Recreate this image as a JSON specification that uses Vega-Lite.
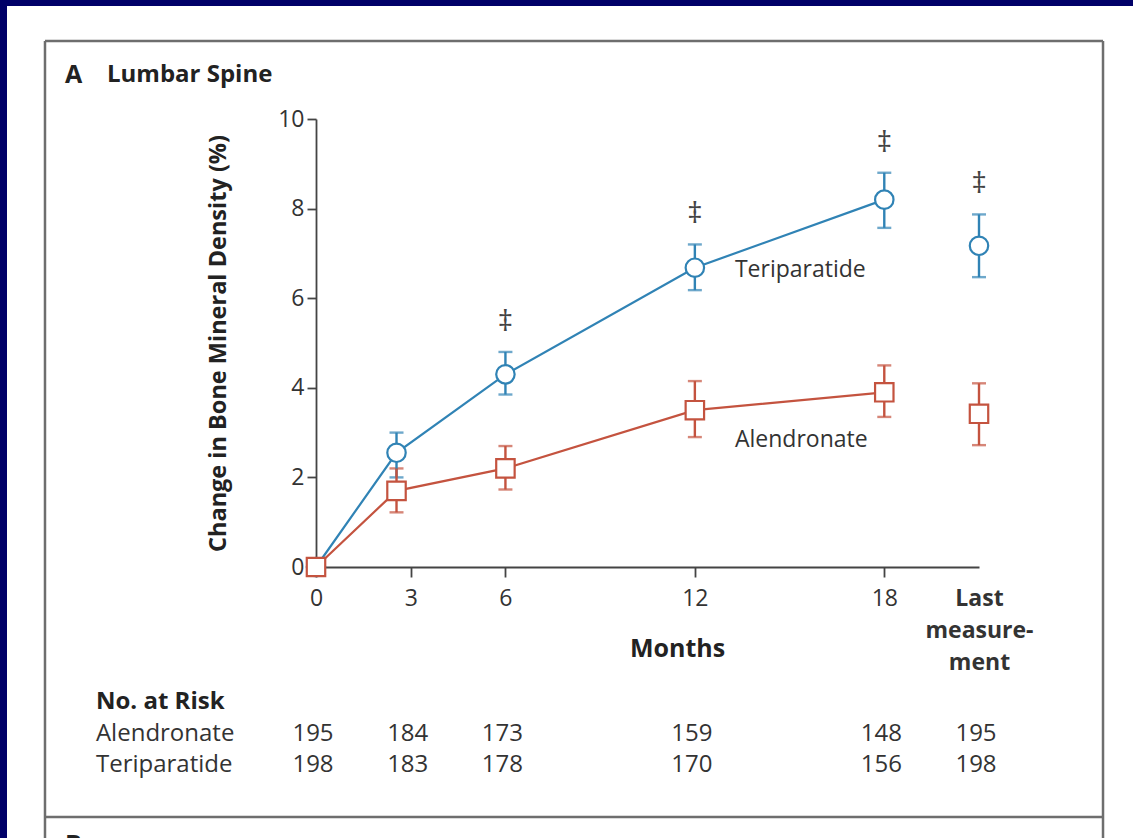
{
  "$schema": "https://vega.github.io/schema/vega-lite/v6.json",
  "width": 663,
  "height": 448,
  "autosize": {"type": "none"},
  "padding": {"left": 316, "top": 119, "right": 154, "bottom": 271},
  "background": "white",
  "config": {"view": {"stroke": null}, "font": "Open Sans"},
  "datasets": {
    "bmd": [
      {"group": "Teriparatide", "month": 0, "value": 0, "lo": 0, "hi": 0, "sig": ""},
      {"group": "Teriparatide", "month": 2.55, "value": 2.55, "lo": 2.0, "hi": 3.0, "sig": ""},
      {"group": "Teriparatide", "month": 6, "value": 4.3, "lo": 3.85, "hi": 4.8, "sig": "‡"},
      {"group": "Teriparatide", "month": 12, "value": 6.68, "lo": 6.18, "hi": 7.2, "sig": "‡"},
      {"group": "Teriparatide", "month": 18, "value": 8.2, "lo": 7.57, "hi": 8.8, "sig": "‡"},
      {"group": "Teriparatide", "month": 21, "value": 7.17, "lo": 6.47, "hi": 7.87, "sig": "‡"},
      {"group": "Alendronate", "month": 0, "value": 0, "lo": 0, "hi": 0, "sig": ""},
      {"group": "Alendronate", "month": 2.55, "value": 1.7, "lo": 1.22, "hi": 2.2, "sig": ""},
      {"group": "Alendronate", "month": 6, "value": 2.2, "lo": 1.73, "hi": 2.7, "sig": ""},
      {"group": "Alendronate", "month": 12, "value": 3.5, "lo": 2.9, "hi": 4.15, "sig": ""},
      {"group": "Alendronate", "month": 18, "value": 3.9, "lo": 3.35, "hi": 4.5, "sig": ""},
      {"group": "Alendronate", "month": 21, "value": 3.42, "lo": 2.72, "hi": 4.1, "sig": ""}
    ],
    "risk": [
      {"group": "Alendronate", "month": 0, "n": 195},
      {"group": "Alendronate", "month": 3, "n": 184},
      {"group": "Alendronate", "month": 6, "n": 173},
      {"group": "Alendronate", "month": 12, "n": 159},
      {"group": "Alendronate", "month": 18, "n": 148},
      {"group": "Alendronate", "month": 21, "n": 195},
      {"group": "Teriparatide", "month": 0, "n": 198},
      {"group": "Teriparatide", "month": 3, "n": 183},
      {"group": "Teriparatide", "month": 6, "n": 178},
      {"group": "Teriparatide", "month": 12, "n": 170},
      {"group": "Teriparatide", "month": 18, "n": 156},
      {"group": "Teriparatide", "month": 21, "n": 198}
    ],
    "one": [{}]
  },
  "resolve": {"scale": {"y": "independent"}},
  "layer": [
    {
      "layer": [
        {
          "data": {"name": "one"},
          "mark": {"type": "rule", "color": "#000068", "strokeWidth": 14},
          "encoding": {
            "x": {"datum": -10.009, "type": "quantitative", "scale": {"domain": [0, 21], "nice": false, "zero": false},
              "axis": {"domain": true, "domainColor": "#444", "domainWidth": 1.8, "grid": false, "values": [0, 3, 6, 12, 18, 21],
                "tickSize": 10, "tickWidth": 1.8, "tickColor": "#444",
                "tickOpacity": {"condition": {"test": "datum.value == 21", "value": 0}, "value": 1},
                "labelExpr": "datum.value == 21 ? ['Last', 'measure-', 'ment'] : datum.label",
                "labelFontWeight": {"condition": {"test": "datum.value == 21", "value": "bold"}, "value": "normal"},
                "labelFontSize": 23, "labelLineHeight": 32, "labelPadding": 10, "labelColor": "#333", "labelFont": "Open Sans",
                "labelFlush": false, "labelOverlap": false,
                "title": "Months", "titleFont": "Open Sans", "titleFontSize": 25, "titleFontWeight": "bold", "titleColor": "#222",
                "titleX": 361, "titleY": 81, "titleAlign": "center", "titleBaseline": "middle", "titleLimit": 400}},
            "y": {"datum": 13, "type": "quantitative", "scale": {"domain": [0, 10], "nice": false, "zero": false},
              "axis": {"domain": true, "domainColor": "#444", "domainWidth": 1.8, "grid": false, "values": [0, 2, 4, 6, 8, 10],
                "tickSize": 9, "tickWidth": 1.8, "tickColor": "#444",
                "labelFontSize": 23, "labelPadding": 3, "labelColor": "#333", "labelFont": "Open Sans",
                "title": "Change in Bone Mineral Density (%)", "titleFont": "Open Sans", "titleFontSize": 23.5, "titleFontWeight": "bold", "titleColor": "#222",
                "titleX": -98, "titleY": 224, "titleAngle": 270, "titleAlign": "center", "titleBaseline": "middle", "titleLimit": 700}},
            "y2": {"datum": -7}
          }
        },
        {
          "data": {"name": "one"},
          "mark": {"type": "rule", "color": "#000068", "strokeWidth": 12},
          "encoding": {
            "x": {"datum": -10.6, "type": "quantitative"},
            "x2": {"datum": 26},
            "y": {"datum": 12.656, "type": "quantitative"}
          }
        },
        {
          "data": {"name": "one"},
          "mark": {"type": "rule", "color": "#6e6e6e", "strokeWidth": 2.5},
          "encoding": {
            "x": {"datum": -8.584, "type": "quantitative"},
            "y": {"datum": 11.741, "type": "quantitative"},
            "y2": {"datum": -6.6}
          }
        },
        {
          "data": {"name": "one"},
          "mark": {"type": "rule", "color": "#6e6e6e", "strokeWidth": 2.5},
          "encoding": {
            "x": {"datum": 24.928, "type": "quantitative"},
            "y": {"datum": 11.741, "type": "quantitative"},
            "y2": {"datum": -6.6}
          }
        },
        {
          "data": {"name": "one"},
          "mark": {"type": "rule", "color": "#6e6e6e", "strokeWidth": 2.5},
          "encoding": {
            "x": {"datum": -8.584, "type": "quantitative"},
            "x2": {"datum": 24.928},
            "y": {"datum": 11.741, "type": "quantitative"}
          }
        },
        {
          "data": {"name": "one"},
          "mark": {"type": "rule", "color": "#6e6e6e", "strokeWidth": 2.5},
          "encoding": {
            "x": {"datum": -8.584, "type": "quantitative"},
            "x2": {"datum": 24.928},
            "y": {"datum": -5.58, "type": "quantitative"}
          }
        },
        {
          "data": {"name": "bmd"},
          "transform": [{"filter": "datum.month < 20"}],
          "mark": {"type": "line", "strokeWidth": 2.2},
          "encoding": {
            "x": {"field": "month", "type": "quantitative"},
            "y": {"field": "value", "type": "quantitative"},
            "color": {"field": "group", "type": "nominal", "scale": {"domain": ["Teriparatide", "Alendronate"], "range": ["#3083b5", "#c4533f"]}, "legend": null}
          }
        },
        {
          "data": {"name": "bmd"},
          "transform": [{"filter": "datum.month > 0"}],
          "mark": {"type": "errorbar", "thickness": 2.4, "ticks": {"size": 14, "thickness": 2.4}},
          "encoding": {
            "x": {"field": "month", "type": "quantitative"},
            "y": {"field": "lo", "type": "quantitative", "title": "Change in Bone Mineral Density (%)"},
            "y2": {"field": "hi"},
            "color": {"field": "group", "type": "nominal", "legend": null}
          }
        },
        {
          "data": {"name": "bmd"},
          "mark": {"type": "point", "fill": "white", "fillOpacity": 1, "opacity": 1, "strokeWidth": 2.2, "size": 340},
          "encoding": {
            "x": {"field": "month", "type": "quantitative"},
            "y": {"field": "value", "type": "quantitative"},
            "stroke": {"field": "group", "type": "nominal", "scale": {"domain": ["Teriparatide", "Alendronate"], "range": ["#3083b5", "#c4533f"]}, "legend": null},
            "shape": {"field": "group", "type": "nominal", "scale": {"domain": ["Teriparatide", "Alendronate"], "range": ["circle", "square"]}, "legend": null}
          }
        },
        {
          "data": {"name": "bmd"},
          "transform": [{"filter": "datum.sig != ''"}],
          "mark": {"type": "text", "fontSize": 30, "color": "#444", "dy": -30, "baseline": "middle"},
          "encoding": {
            "x": {"field": "month", "type": "quantitative"},
            "y": {"field": "hi", "type": "quantitative"},
            "text": {"field": "sig"}
          }
        },
        {
          "data": {"name": "one"},
          "mark": {"type": "text", "fontSize": 23, "color": "#333", "align": "left", "baseline": "middle", "text": "Teriparatide"},
          "encoding": {
            "x": {"datum": 13.27, "type": "quantitative"},
            "y": {"datum": 6.63, "type": "quantitative"}
          }
        },
        {
          "data": {"name": "one"},
          "mark": {"type": "text", "fontSize": 23, "color": "#333", "align": "left", "baseline": "middle", "text": "Alendronate"},
          "encoding": {
            "x": {"datum": 13.27, "type": "quantitative"},
            "y": {"datum": 2.83, "type": "quantitative"}
          }
        },
        {
          "data": {"name": "one"},
          "mark": {"type": "text", "fontSize": 25, "fontWeight": "bold", "color": "#222", "align": "left", "baseline": "middle", "text": "A"},
          "encoding": {
            "x": {"datum": -7.95, "type": "quantitative"},
            "y": {"datum": 10.98, "type": "quantitative"}
          }
        },
        {
          "data": {"name": "one"},
          "mark": {"type": "text", "fontSize": 24, "fontWeight": "bold", "color": "#222", "align": "left", "baseline": "middle", "text": "Lumbar Spine"},
          "encoding": {
            "x": {"datum": -6.62, "type": "quantitative"},
            "y": {"datum": 10.98, "type": "quantitative"}
          }
        },
        {
          "data": {"name": "one"},
          "mark": {"type": "text", "fontSize": 25, "fontWeight": "bold", "color": "#222", "align": "left", "baseline": "top", "text": "B"},
          "encoding": {
            "x": {"datum": -7.95, "type": "quantitative"},
            "y": {"datum": -5.93, "type": "quantitative"}
          }
        }
      ]
    },
    {
      "layer": [
        {
          "data": {"name": "risk"},
          "mark": {"type": "text", "fontSize": 24, "color": "#333", "align": "center", "baseline": "middle", "dx": -3},
          "encoding": {
            "x": {"field": "month", "type": "quantitative"},
            "y": {"field": "group", "type": "nominal", "scale": {"type": "point", "domain": ["No. at Risk", "Alendronate", "Teriparatide"], "range": [583, 646], "padding": 0}, "axis": null},
            "text": {"field": "n"}
          }
        },
        {
          "data": {"name": "risk"},
          "transform": [{"filter": "datum.month == 0"}],
          "mark": {"type": "text", "fontSize": 24, "color": "#333", "align": "left", "baseline": "middle"},
          "encoding": {
            "x": {"datum": -6.97, "type": "quantitative"},
            "y": {"field": "group", "type": "nominal", "axis": null},
            "text": {"field": "group"}
          }
        },
        {
          "data": {"name": "one"},
          "mark": {"type": "text", "fontSize": 24, "fontWeight": "bold", "color": "#222", "align": "left", "baseline": "middle", "text": "No. at Risk"},
          "encoding": {
            "x": {"datum": -6.97, "type": "quantitative"},
            "y": {"datum": "No. at Risk", "type": "nominal", "axis": null}
          }
        }
      ]
    }
  ]
}
